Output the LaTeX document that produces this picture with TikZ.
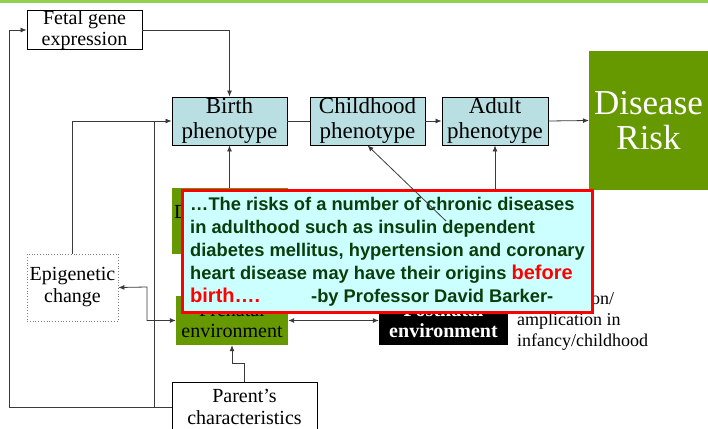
\documentclass[tikz,border=0pt]{standalone}
\usepackage{fontspec}
\setmainfont{Liberation Serif}
\newfontfamily\arialfont{Liberation Sans}
\usetikzlibrary{arrows.meta}
\definecolor{topgreen}{HTML}{92D050}
\definecolor{phenoblue}{HTML}{B9DFE3}
\definecolor{dgreen}{HTML}{669900}
\definecolor{calfill}{HTML}{CCFFFF}
\definecolor{caltext}{HTML}{0A3D0A}
\definecolor{calred}{HTML}{FF0000}
\definecolor{linegray}{HTML}{3A3A3A}
\tikzset{
  plainbox/.style={draw=black, line width=0.9pt, inner sep=0pt, align=center},
  pheno/.style={plainbox, fill=phenoblue, minimum height=48pt, font=\fontsize{23}{25}\selectfont},
  greenbox/.style={fill=dgreen, inner sep=0pt, align=center, font=\fontsize{20}{21}\selectfont},
  conn/.style={draw=linegray, line width=0.8pt},
  arr/.style={conn, -{Latex[length=6pt,width=5pt]}},
  arrboth/.style={conn, {Latex[length=6pt,width=5pt]}-{Latex[length=6pt,width=5pt]}},
}
\begin{document}
\begin{tikzpicture}[x=1pt,y=-1pt]
\useasboundingbox (0,0) rectangle (708,428);
\fill[topgreen] (0,0) rectangle (708,3.5);

% nodes
\node[plainbox, minimum width=115pt, minimum height=36pt, font=\fontsize{20}{21}\selectfont] (fetal) at (84.5,30) {Fetal gene\\expression};
\node[pheno, minimum width=115pt] (birth) at (229.5,121) {Birth\\phenotype};
\node[pheno, minimum width=115pt] (child) at (367.5,121) {Childhood\\phenotype};
\node[pheno, minimum width=106pt] (adult) at (495,121) {Adult\\phenotype};
\node[fill=dgreen, text=white, inner sep=0pt, align=center, minimum width=119pt, minimum height=139pt, font=\fontsize{35}{35}\selectfont] (disease) at (648.5,120.5) {Disease\\Risk};
\node[fill=dgreen, inner sep=0pt, minimum width=116pt, minimum height=66pt] (dev) at (229.5,221) {};
\node[anchor=west, inner sep=0pt, font=\fontsize{20}{21}\selectfont] (devtext) at (174,214) {Developmental};
\node[draw=gray, dotted, line width=0.8pt, fill=white, inner sep=0pt, align=center, minimum width=91pt, minimum height=67pt, font=\fontsize{20}{22}\selectfont] (epi) at (72.5,287.5) {Epigenetic\\change};
\node[greenbox, minimum width=112pt, minimum height=49pt] (pre) at (232,320.5) {Prenatal\\environment};
\node[fill=black, text=white, inner sep=0pt, align=center, minimum width=129pt, minimum height=49pt, font=\fontsize{20}{21}\selectfont\bfseries] (post) at (443.5,320.5) {Postnatal\\environment};
\node[plainbox, fill=white, minimum width=145pt, minimum height=50pt, font=\fontsize{20}{22}\selectfont] (parent) at (244.5,407) {Parent’s\\characteristics};
\node[anchor=west, inner sep=0pt, align=left, font=\fontsize{18}{21}\selectfont] (accel) at (517,321) {Acceleration/\\amplication in\\infancy/childhood};

% connectors
\coordinate (lft) at (9,30);
\coordinate (mid) at (154,121);
\coordinate (j1) at (147,287);
\draw[arr] (parent.west) -| (lft) -- (fetal.west);
\draw[conn] (parent.west) -| (mid);
\draw[arr] (fetal.east) -| (birth.north);
\draw[arr] (epi.north) |- (birth.west);
\draw[arrboth] (epi.east) -- (j1) |- (pre.west);
\draw[arr] (parent.north) -- ++(0,-18) -| (pre.south);
\draw[arrboth] (post.west) -- (pre.east);
\draw[arr] (dev.north) -- (birth.south);
\draw[conn] (birth.east) -- (child.west);
\draw[arr] (child.east) -- (adult.west);
\draw[arr] (adult.east) -- (disease.west);
\draw[arr] (post.north -| adult.south) -- (adult.south);

% callout
\node[draw=calred, line width=3pt, fill=calfill, inner sep=0pt, minimum width=410pt, minimum height=122pt] (callout) at (387.5,251.5) {};
\node[anchor=west, inner sep=0pt, align=left, text=caltext, font=\arialfont\bfseries\fontsize{18.3}{23}\selectfont] (quote) at (190,252) {…The risks of a number of chronic diseases\\in adulthood such as insulin dependent\\diabetes mellitus, hypertension and coronary\\heart disease may have their origins {\color{calred}\fontsize{20}{23}\selectfont before}\\{\color{calred}\fontsize{20}{23}\selectfont birth….}\hspace{51pt}-by Professor David Barker-};

\coordinate (dg) at (446,221);
\draw[arr] (dg) -- (child.south);
\end{tikzpicture}
\end{document}
